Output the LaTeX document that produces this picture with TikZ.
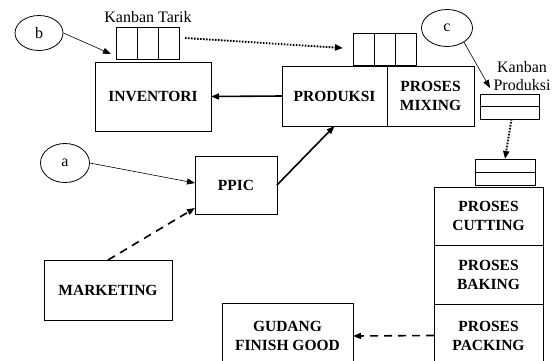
\documentclass[tikz,border=0pt]{standalone}
\usepackage{fontspec}
\setmainfont{Liberation Serif}
\usetikzlibrary{arrows.meta,positioning,shapes.geometric}

\begin{document}
\begin{tikzpicture}[x=1pt,y=-1pt,>={Triangle[length=8pt,width=6pt]},
  kotak/.style={draw,line width=0.9pt,align=center,inner sep=0pt,outer sep=0pt,font=\fontsize{15.5}{19}\selectfont\bfseries},
  kartu/.style={draw,line width=0.9pt,inner sep=0pt,outer sep=0pt},
  lingkar/.style={draw,ellipse,line width=0.8pt,inner sep=0pt,font=\fontsize{16}{19}\selectfont},
  tebal/.style={->,line width=1.6pt},
  tipis/.style={->,line width=0.6pt},
  titik/.style={->,line width=1.9pt,dash pattern=on 1.6pt off 1.4pt}]
\useasboundingbox (0,0) rectangle (560,360);
\clip (0,0) rectangle (560,360);
\node[kotak,minimum width=116pt,minimum height=69pt] (inv) at (153,96.5) {INVENTORI};
\node[kotak,minimum width=105pt,minimum height=60pt] (produksi) at (334.5,96) {PRODUKSI};
\node[kotak,minimum width=87pt,minimum height=60pt,right=0pt of produksi] (mixing) {PROSES\\MIXING};
\node[kotak,minimum width=82pt,minimum height=58pt] (ppic) at (236,185) {PPIC};
\node[kotak,minimum width=128pt,minimum height=60pt] (marketing) at (108,290) {MARKETING};
\node[kotak,minimum width=109pt,minimum height=58pt] (cutting) at (488.5,216) {PROSES\\CUTTING};
\node[kotak,minimum width=109pt,minimum height=59pt,below=0pt of cutting] (baking) {PROSES\\BAKING};
\node[kotak,minimum width=109pt,minimum height=63pt,below=0pt of baking] (packing) {PROSES\\PACKING};
\node[kotak,minimum width=131pt,minimum height=66pt] (gudang) at (287.5,336) {GUDANG\\FINISH\ GOOD};
\node[kartu,minimum width=21pt,minimum height=32pt] (kt1) at (126.5,43) {};
\node[kartu,minimum width=21pt,minimum height=32pt,right=0pt of kt1] (kt2) {};
\node[kartu,minimum width=21pt,minimum height=32pt,right=0pt of kt2] (kt3) {};
\node[kartu,minimum width=21pt,minimum height=32pt] (kr1) at (363.5,49) {};
\node[kartu,minimum width=21pt,minimum height=32pt,right=0pt of kr1] (kr2) {};
\node[kartu,minimum width=21pt,minimum height=32pt,right=0pt of kr2] (kr3) {};
\node[kartu,minimum width=59pt,minimum height=12.5pt] (kp1) at (509.5,100.25) {};
\node[kartu,minimum width=59pt,minimum height=12.5pt,below=0pt of kp1] (kp1b) {};
\node[kartu,minimum width=60pt,minimum height=13pt] (kp2) at (505,165.5) {};
\node[kartu,minimum width=60pt,minimum height=13pt,below=0pt of kp2] (kp2b) {};
\node[font=\fontsize{16}{19}\selectfont] (labtarik) at (148,17) {Kanban Tarik};
\node[font=\fontsize{16}{18}\selectfont,align=center] (labprod) at (522,76) {Kanban\\Produksi};
\node[lingkar,minimum width=48pt,minimum height=35pt] (b) at (39,33) {b};
\node[lingkar,minimum width=49pt,minimum height=39pt] (a) at (65,163) {a};
\node[lingkar,minimum width=51pt,minimum height=37pt] (c) at (447,28) {c};
\draw[tipis] (b.east) -- ([xshift=-5pt,yshift=5pt]kt1.south west);
\draw[tipis] (a.east) -- ([yshift=2pt]ppic.west);
\draw[tipis] (c.-40) -- ([xshift=10pt,yshift=6pt]kp1.north west);
\draw[titik] ([xshift=6pt,yshift=5pt]kt3.east) -- ([xshift=-10pt,yshift=1pt]kr1.west);
\draw[titik] ([xshift=2pt]kp1b.south) -- (kp2.north);
\draw[tebal] (produksi.west) -- (inv.east);
\draw[tebal] (ppic.east) -- (produksi.south);
\draw[tebal,dash pattern=on 8pt off 6pt] (marketing.north) -- ([yshift=6pt]ppic.south west);
\draw[tebal,dash pattern=on 8pt off 6pt] (packing.west) -- (gudang.east);
\end{tikzpicture}
\end{document}
